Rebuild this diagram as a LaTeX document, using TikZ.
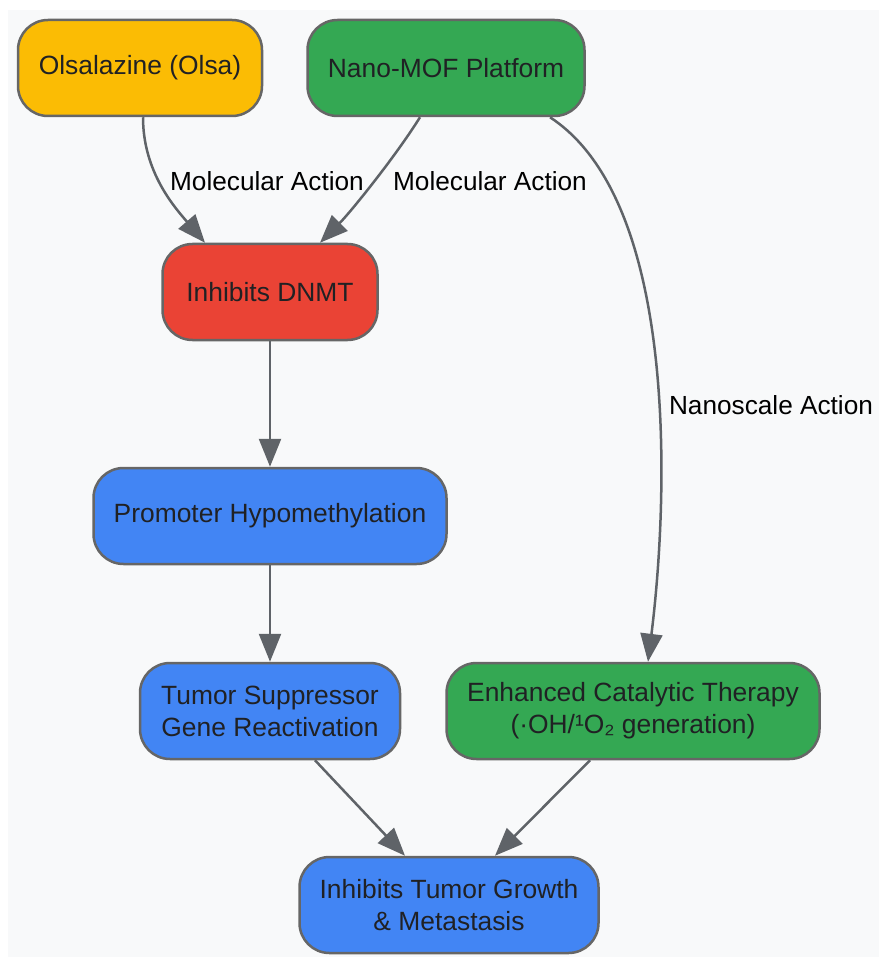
\documentclass[tikz,border=0pt]{standalone}
\usepackage{fontspec}
\setmainfont{Liberation Sans}
\usepackage{xcolor}
\usetikzlibrary{arrows.meta}
\definecolor{pagebg}{HTML}{F8F9FA}
\definecolor{edgecolor}{HTML}{5F6368}
\definecolor{bordercolor}{HTML}{666666}
\definecolor{textcolor}{HTML}{202124}
\definecolor{olsacolor}{HTML}{FBBC04}
\definecolor{mofcolor}{HTML}{34A853}
\definecolor{dnmtcolor}{HTML}{EA4335}
\definecolor{pathcolor}{HTML}{4285F4}

\tikzset{
  stepbox/.style={draw=bordercolor, line width=2.5pt, rounded corners=30pt,
    minimum height=96pt, align=center, text=textcolor,
    font=\fontsize{26.4}{32}\selectfont},
  flow/.style={edgecolor, line width=2.5pt, -{Triangle[length=28pt,width=22pt]}},
  edgelabel/.style={font=\fontsize{26.2}{30}\selectfont, text=black}
}

\begin{document}
\begin{tikzpicture}[x=1pt, y=-1pt]
  \useasboundingbox (0,0) rectangle (879,957);
  \fill[pagebg] (8,10) rectangle (879,957);

  % === NODES ===
  \node[stepbox, fill=olsacolor, minimum width=244pt] (olsa) at (140,68) {Olsalazine (Olsa)};
  \node[stepbox, fill=mofcolor, minimum width=277pt] (mof) at (446,68) {Nano-MOF Platform};
  \node[stepbox, fill=dnmtcolor, minimum width=215pt] (dnmt) at (270,292) {Inhibits DNMT};
  \node[stepbox, fill=pathcolor, minimum width=353pt] (promoter) at (270,516) {Promoter Hypomethylation};
  \node[stepbox, fill=pathcolor, minimum width=260pt] (suppressor) at (270,711)
    {Tumor Suppressor\\Gene Reactivation};
  \node[stepbox, fill=mofcolor, minimum width=373pt] (catalytic) at (633,711)
    {Enhanced Catalytic Therapy\\(·OH/¹O₂ generation)};
  \node[stepbox, fill=pathcolor, minimum width=299pt] (tumor) at (449,905)
    {Inhibits Tumor Growth\\\& Metastasis};

  % === EDGES ===
  \draw[flow] ([xshift=3pt]olsa.south) .. controls +(0,55) and +(-30,-35) .. ([xshift=-65pt]dnmt.north);
  \draw[flow] ([xshift=-26pt]mof.south) .. controls +(-25,40) and +(30,-30) .. ([xshift=50pt]dnmt.north);
  \draw[flow] ([xshift=104pt]mof.south) .. controls +(130,85) and +(20,-160) .. ([xshift=15pt]catalytic.north);
  \draw[flow] (dnmt) -- (promoter);
  \draw[flow] (promoter) -- (suppressor);
  \draw[flow] ([xshift=45pt]suppressor.south) -- ([xshift=-44pt]tumor.north);
  \draw[flow] ([xshift=-43pt]catalytic.south) -- ([xshift=46pt]tumor.north);

  % Edge labels
  \node[edgelabel] (molA) at (267,181) {Molecular Action};
  \node[edgelabel] (molB) at (490,181) {Molecular Action};
  \node[edgelabel] (nano) at (771,405) {Nanoscale Action};
\end{tikzpicture}
\end{document}
